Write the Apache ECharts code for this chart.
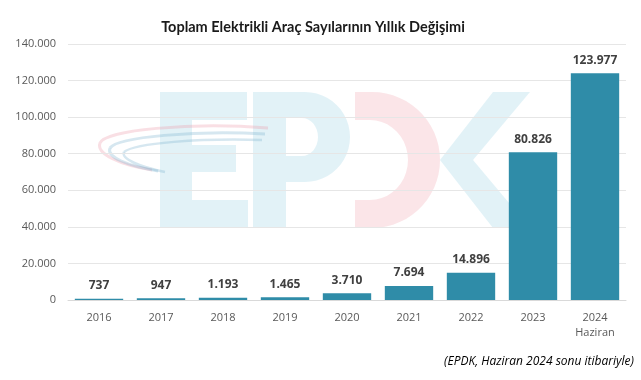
<!DOCTYPE html>
<html><head><meta charset="utf-8">
<script src="https://cdn.jsdelivr.net/npm/echarts@6/dist/echarts.min.js"></script>
<style>html,body{margin:0;padding:0;background:#fff}#c{width:641px;height:380px}</style>
</head><body><div id="c"></div>
<script>
const categories = ['2016','2017','2018','2019','2020','2021','2022','2023','2024\nHaziran'];
const values = [737, 947, 1193, 1465, 3710, 7694, 14896, 80826, 123977];
const titleText = 'Toplam Elektrikli Araç Sayılarının Yıllık Değişimi';
const noteText = '(EPDK, Haziran 2024 sonu itibariyle)';
function fmt(v){ return String(v).replace(/\B(?=(\d{3})+(?!\d))/g, '.'); }
const wmBlue = 'rgba(140,205,225,0.25)', wmPink = 'rgba(240,150,165,0.25)';
// half-ellipse helper for watermark logo (decoration only)
function arc(cx, cy, rx, ry, a0, a1, n){
  const pts = [];
  for (let i = 0; i <= n; i++){ const a = a0 + (a1 - a0) * i / n; pts.push([cx + rx * Math.cos(a), cy + ry * Math.sin(a)]); }
  return pts;
}
const H = Math.PI / 2;
const pStem = [[253,92],[286,92],[286,228],[253,228]];
const pBowl = [[286,92]].concat(arc(305,137,45,45,-H,H,24)).concat([[286,182],[286,156]]).concat(arc(302,137,16,19,H,-H,16)).concat([[286,118]]);
const dShape = [[355,92]].concat(arc(372,160,68,68,-H,H,30)).concat([[355,228],[355,200]]).concat(arc(370,160,38,40,H,-H,20)).concat([[355,120]]);
function curve(x1,y1,c1x,c1y,c2x,c2y,x2,y2,color,w){
  return {type:'bezierCurve',z:-10,shape:{x1:x1,y1:y1,cpx1:c1x,cpy1:c1y,cpx2:c2x,cpy2:c2y,x2:x2,y2:y2},style:{fill:null,stroke:color,lineWidth:w}};
}
const chart = echarts.init(document.getElementById('c'));
chart.setOption({
  animation:false,
  backgroundColor:'#fff',
  title:{text:titleText,left:308,textAlign:'center',top:15,textStyle:{fontFamily:'Lato',fontSize:14.5,fontWeight:'bold',color:'#1a1a1a'}},
  graphic:[
    {type:'polygon',z:-10,shape:{points:[[160,92],[247,92],[247,120],[192,120],[192,145],[236,145],[236,172],[192,172],[192,200],[248,200],[248,228],[160,228]]},style:{fill:wmBlue}},
    {type:'polygon',z:-10,shape:{points:pStem},style:{fill:wmBlue}},
    {type:'polygon',z:-10,shape:{points:pBowl},style:{fill:wmBlue}},
    {type:'polygon',z:-10,shape:{points:dShape},style:{fill:wmPink}},
    {type:'polygon',z:-10,shape:{points:[[493,92],[530,92],[473,160],[530,228],[493,228],[440,160]]},style:{fill:wmBlue}},
    curve(268,128,190,122,105,130,100,143,'rgba(235,150,165,0.3)',3),
    curve(100,143,96,154,120,165,152,170,'rgba(235,150,165,0.3)',3),
    curve(265,134,195,130,118,137,110,148,'rgba(120,175,205,0.3)',3),
    curve(110,148,106,157,128,166,158,171,'rgba(120,175,205,0.3)',3),
    curve(262,140,200,138,135,143,124,152,'rgba(120,175,205,0.3)',2.5),
    curve(124,152,121,159,140,167,165,172,'rgba(120,175,205,0.3)',2.5),
    {type:'text',right:7,top:356,style:{text:noteText,font:'italic 12px "Open Sans"',fill:'#000'}}
  ],
  grid:{left:68,right:15,top:44,bottom:80},
  xAxis:{type:'category',data:categories,axisTick:{show:false},
    axisLine:{lineStyle:{color:'#d9d9d9'}},
    axisLabel:{color:'#595959',fontFamily:'Open Sans',fontSize:11,margin:10,lineHeight:15}},
  yAxis:{type:'value',min:0,max:140000,interval:20000,
    axisLine:{show:false},axisTick:{show:false},
    splitLine:{lineStyle:{color:'#e6e6e6'}},
    axisLabel:{color:'#595959',fontFamily:'Open Sans',fontSize:11,margin:12,formatter:fmt}},
  series:[{type:'bar',data:values,barWidth:'78%',itemStyle:{color:'#2f8ca8'},z:5,
    label:{show:true,position:'top',distance:7,color:'#404040',fontFamily:'Open Sans',fontWeight:'bold',fontSize:12,formatter:p=>fmt(p.value)}}]
});
</script></body></html>
